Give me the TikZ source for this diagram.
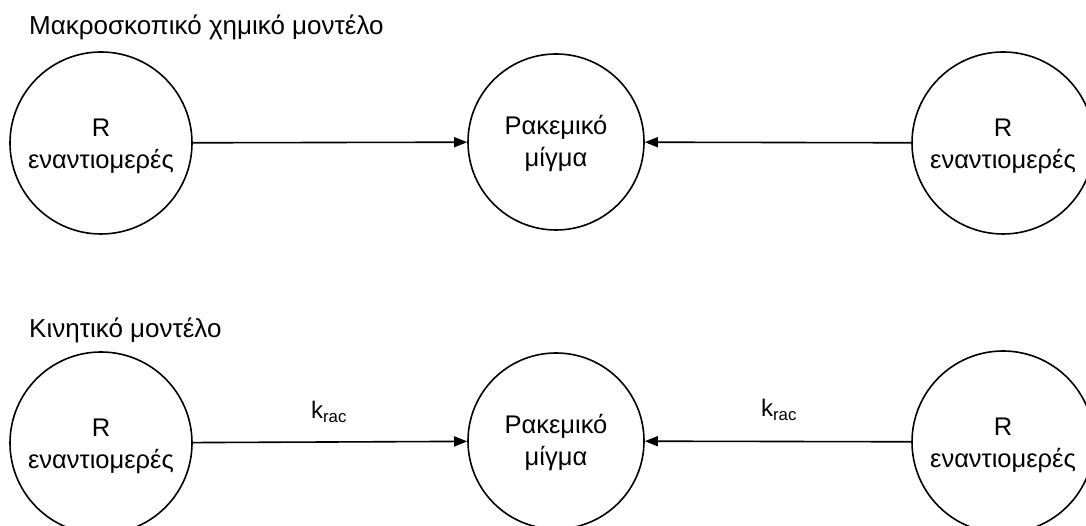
\documentclass[tikz,border=0pt]{standalone}
\usepackage{fontspec}
\setmainfont{Liberation Sans}
\usetikzlibrary{arrows.meta}
\begin{document}
\begin{tikzpicture}[x=1pt,y=1pt,
  circ/.style={draw=black,line width=1.6pt,circle,inner sep=0pt},
  ctxt/.style={inner sep=0pt,align=center,font=\fontsize{25.5}{32}\selectfont},
  arr/.style={line width=1.6pt,-{Triangle[length=13pt,width=10pt]}},
  ttl/.style={anchor=west,inner sep=0pt,font=\fontsize{26}{30}\selectfont},
  lbl/.style={inner sep=0pt,font=\fontsize{24}{28}\selectfont}]
\useasboundingbox (0,0) rectangle (1086,526);
\node[ttl] (t1) at (29,499) {Μακροσκοπικό χημικό μοντέλο};
\node[ttl] (t2) at (29,196) {Κινητικό μοντέλο};
\node[circ,minimum size=182pt] (L1) at (101,383) {};
\node[circ,minimum size=176pt] (M1) at (556,384) {};
\node[circ,minimum size=182pt] (R1) at (1003,383) {};
\node[circ,minimum size=182pt] (L2) at (101,83) {};
\node[circ,minimum size=176pt] (M2) at (556,85) {};
\node[circ,minimum size=182pt] (R2) at (1003,84) {};
\node[ctxt] (L1t) at ([yshift=-3pt]L1.center) {R\\εναντιομερές};
\node[ctxt] (M1t) at ([yshift=-2pt]M1.center) {Ρακεμικό\\μίγμα};
\node[ctxt] (R1t) at ([yshift=-3pt]R1.center) {R\\εναντιομερές};
\node[ctxt] (L2t) at ([yshift=-3pt]L2.center) {R\\εναντιομερές};
\node[ctxt] (M2t) at ([yshift=-2pt]M2.center) {Ρακεμικό\\μίγμα};
\node[ctxt] (R2t) at ([yshift=-3pt]R2.center) {R\\εναντιομερές};
\draw[arr] (L1) -- (M1);
\draw[arr] (R1) -- (M1);
\draw[arr] (L2) -- (M2);
\draw[arr] (R2) -- (M2);
\node[lbl] (k1) at (329,114) {k\textsubscript{rac}};
\node[lbl] (k2) at (779,116) {k\textsubscript{rac}};
\end{tikzpicture}
\end{document}
